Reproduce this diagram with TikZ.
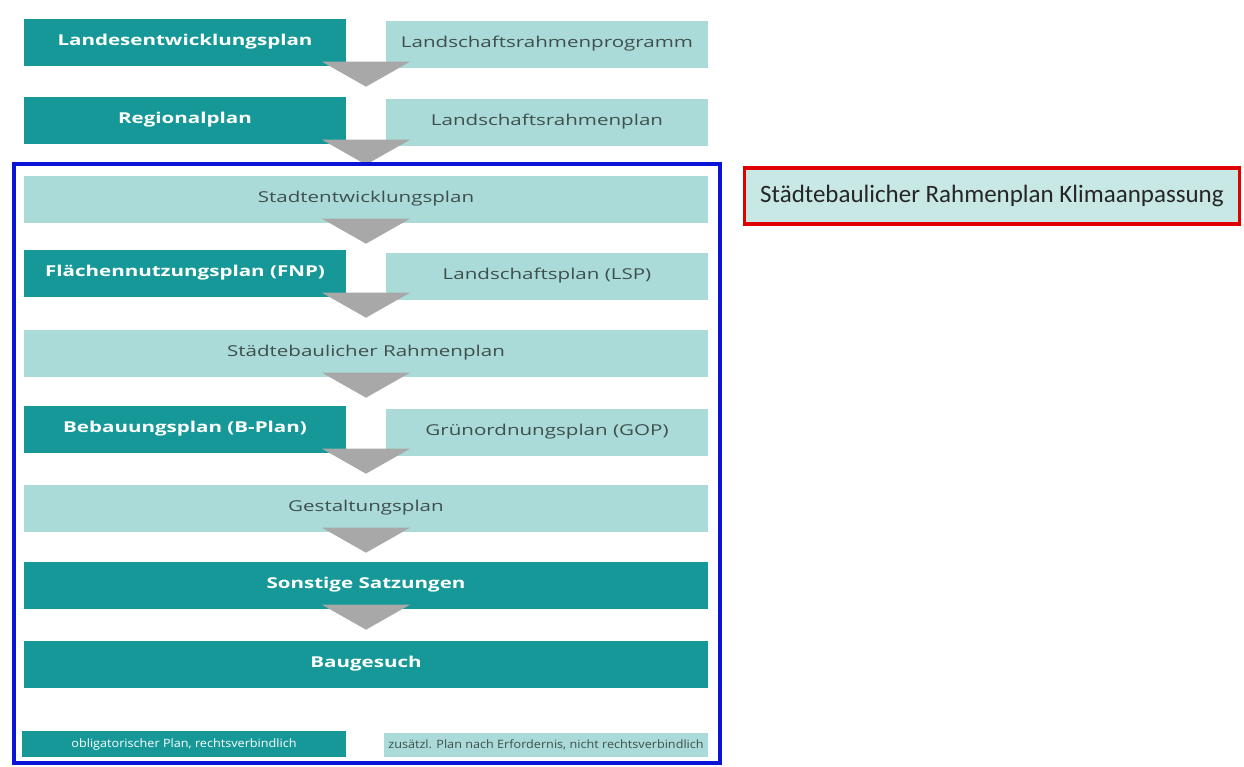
\documentclass[tikz,border=0pt]{standalone}
\usepackage{fontspec}
\newfontfamily\planfont[FakeStretch=1.37]{Open Sans}
\newfontfamily\legfont[FakeStretch=1.1]{Open Sans}
\newfontfamily\klimafont{Carlito}
\usetikzlibrary{calc}
\definecolor{plandark}{HTML}{169899}
\definecolor{planlight}{HTML}{AADBD8}
\definecolor{plantext}{HTML}{3F4F4D}
\definecolor{pfeilgrau}{HTML}{A8A8A8}
\definecolor{rahmenblau}{HTML}{0A14D8}
\definecolor{rahmenrot}{HTML}{E00000}
\tikzset{pflicht/.style={fill=plandark, text=white, inner sep=0pt, minimum height=47, font=\planfont\fontsize{15}{17}\selectfont\bfseries}}
\tikzset{zusatz/.style={fill=planlight, text=plantext, inner sep=0pt, minimum height=47, font=\planfont\fontsize{15}{17}\selectfont}}
\tikzset{halb/.style={minimum width=322}}
\tikzset{ganz/.style={minimum width=684}}
\tikzset{legende/.style={minimum width=324, font=\legfont\fontsize{11.5}{13}\selectfont\mdseries}}
\tikzset{pfeil/.style={fill=pfeilgrau}}

\begin{document}
\begin{tikzpicture}[x=1pt,y=-1pt]
\useasboundingbox (0,0) rectangle (1244,766);

\coordinate (mitte) at (366,0);

\node[pflicht,halb] (lep) at (185,42) {Landesentwicklungsplan};
\node[zusatz,halb] (lrp) at (547,44) {Landschaftsrahmenprogramm};

\node[pflicht,halb] (rp) at (185,120) {Regionalplan};
\node[zusatz,halb] (lrpl) at (547,122) {Landschaftsrahmenplan};

\node[zusatz,ganz] (sep) at (366,199) {Stadtentwicklungsplan};

\node[pflicht,halb] (fnp) at (185,273) {Flächennutzungsplan (FNP)};
\node[zusatz,halb] (lsp) at (547,276) {Landschaftsplan (LSP)};

\node[zusatz,ganz] (srp) at (366,353) {Städtebaulicher Rahmenplan};

\node[pflicht,halb] (bp) at (185,429) {Bebauungsplan (B-Plan)};
\node[zusatz,halb] (gop) at (547,432) {Grünordnungsplan (GOP)};

\node[zusatz,ganz] (gp) at (366,508) {Gestaltungsplan};

\node[pflicht,ganz] (ss) at (366,585) {Sonstige Satzungen};

\node[pflicht,ganz] (bg) at (366,664) {Baugesuch};

\foreach \a in {lep,rp,sep,fnp,srp,bp,gp,ss}
  \fill[pfeil] ($(\a.south -| mitte)+(-44,-4)$) -- ++(88,0) -- ++(-44,25) -- cycle;

% Legende
\node[pflicht,legende,minimum height=26] (leg1) at (184,744) {obligatorischer Plan, rechtsverbindlich};
\node[zusatz,legende,minimum height=24] (leg2) at (546,745) {zusätzl. Plan nach Erfordernis, nicht rechtsverbindlich};

\draw[rahmenblau,line width=4] (14,164) rectangle (720,763);

\node[draw=rahmenrot,line width=3.5,fill=planlight!65!white,minimum width=495,minimum height=56,inner sep=0pt,text=black!85,font=\klimafont\fontsize{25}{28}\selectfont] (klima) at (992,196) {Städtebaulicher Rahmenplan Klimaanpassung};

\end{tikzpicture}
\end{document}
